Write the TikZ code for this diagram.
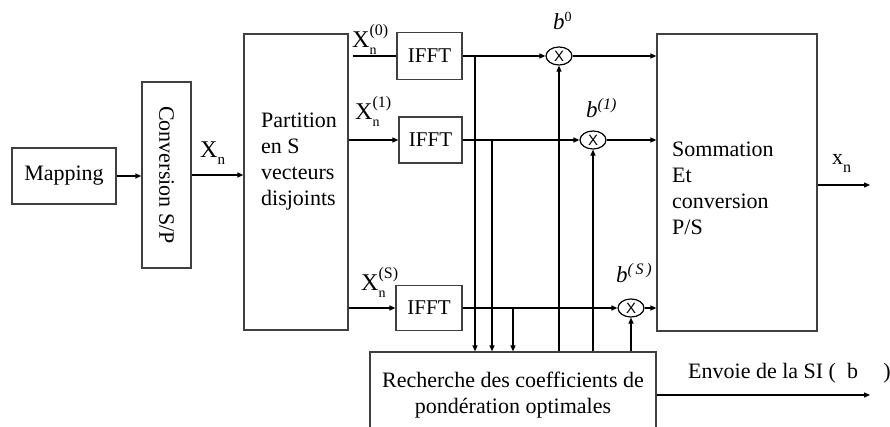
\documentclass[tikz,border=0pt]{standalone}
\usepackage{fontspec}
\setmainfont{Liberation Serif}
\newfontfamily\sansx{Liberation Sans}
\usetikzlibrary{arrows.meta,shapes.geometric}
\definecolor{boxgray}{HTML}{404040}
\newcommand{\fs}[1]{\fontsize{#1}{#1}\selectfont}
\newcommand{\Xlab}[1]{{\fs{24}X}\rlap{\raisebox{12pt}{\fs{16}#1}}\raisebox{-7pt}{\fs{14}n}}
\begin{document}
\begin{tikzpicture}[x=1pt,y=-1pt,
  every node/.style={font=\fontsize{22}{26}\selectfont},
  box/.style={draw=boxgray,line width=1.2pt,inner sep=0pt},
  mult/.style={ellipse,draw=black,line width=1.2pt,inner sep=0pt,minimum width=26pt,minimum height=18pt,font=\sansx\fs{15}},
  ln/.style={line width=1.2pt},
  arr/.style={line width=1.2pt,-{Triangle[length=6pt,width=5pt]}},
  lab/.style={inner sep=0pt,anchor=base west}]
\clip (0,0) rectangle (890,427);
\fill[white] (0,0) rectangle (890,427);
% boxes
\node[box,minimum width=104pt,minimum height=56pt] (map) at (64,176) {Mapping};
\node[box,minimum width=49pt,minimum height=186pt] (conv) at (166.5,175) {};
\node[rotate=-90,inner sep=0pt] (convtxt) at (166.5,175) {Conversion S/P};
\node[box,minimum width=104pt,minimum height=296pt] (part) at (296,182) {};
\node[inner sep=0pt,anchor=north west,align=left] (parttxt) at (261,113) {Partition\\en S\\vecteurs\\disjoints};
\node[box,minimum width=65pt,minimum height=47pt,font=\fs{21}] (ifft1) at (429.5,56) {IFFT};
\node[box,minimum width=63pt,minimum height=46pt,font=\fs{21}] (ifft2) at (430.5,140) {IFFT};
\node[box,minimum width=66pt,minimum height=45pt,font=\fs{21}] (ifft3) at (429,308) {IFFT};
\node[mult] (m1) at (559,56) {X};
\node[mult] (m2) at (593,140) {X};
\node[mult] (m3) at (631,308) {X};
\node[box,minimum width=160pt,minimum height=297pt] (som) at (737,182.5) {};
\node[inner sep=0pt,anchor=north west,align=left] (somtxt) at (672,142) {Sommation\\Et\\conversion\\P/S};
\node[box,minimum width=286pt,minimum height=88pt] (rech) at (513,396) {};
\node[inner sep=0pt,anchor=north,align=center] (rechtxt) at (513,372) {Recherche des coefficients de\\pondération optimales};
% labels
\node[lab] (lx) at (200,158) {{\fs{24}X}\raisebox{-7pt}{\fs{15}n}};
\node[lab] (lx0) at (352,48) {\Xlab{(0)}};
\node[lab] (lx1) at (355,120) {\Xlab{(1)}};
\node[lab] (lxs) at (361,290) {\Xlab{(S)}};
\node[lab] (lb0) at (553,30) {{\fs{23}\textit{b}}\raisebox{8pt}{\fs{14}0}};
\node[lab] (lb1) at (586,118) {{\fs{23}\textit{b}}\raisebox{8pt}{\fs{16}\textit{(1)}}};
\node[lab] (lbs) at (616,283) {{\fs{23}\textit{b}}\raisebox{8pt}{\fs{16}\textit{(\,S\,)}}};
\node[lab] (lxo) at (832,165) {x\raisebox{-8pt}{\fs{16}n}};
\node[lab] (lenv) at (688,378) {Envoie de la SI (\hspace{0.5em}b\hspace{1.15em})};
% connectors
\draw[arr] (map.east) -- (map.east -| conv.west);
\draw[arr] (conv.east) -- (conv.east -| part.west);
\draw[ln,shorten <=4pt] (part.east |- ifft1.west) -- (ifft1.west);
\draw[arr] (part.east |- ifft2.west) -- (ifft2.west);
\draw[arr] (part.east |- ifft3.west) -- (ifft3.west);
\draw[arr] (ifft1.east) -- (m1.west);
\draw[arr] (ifft2.east) -- (m2.west);
\draw[arr] (ifft3.east) -- (m3.west);
\draw[arr] (m1.east) -- (m1.east -| som.west);
\draw[arr] (m2.east) -- (m2.east -| som.west);
\draw[arr] (m3.east) -- (m3.east -| som.west);
\coordinate (t1) at (475,56);
\coordinate (t2) at (492,140);
\coordinate (t3) at (513,308);
\draw[arr] (t1) -- (t1 |- rech.north);
\draw[arr] (t2) -- (t2 |- rech.north);
\draw[arr] (t3) -- (t3 |- rech.north);
\draw[arr] (rech.north -| m1.south) -- (m1.south);
\draw[arr] (rech.north -| m2.south) -- (m2.south);
\draw[arr] (rech.north -| m3.south) -- (m3.south);
\coordinate (out) at (870,185);
\draw[arr] (som.east |- out) -- (out);
\coordinate (envend) at (870,395);
\draw[arr] (rech.east |- envend) -- (envend);
\end{tikzpicture}
\end{document}
